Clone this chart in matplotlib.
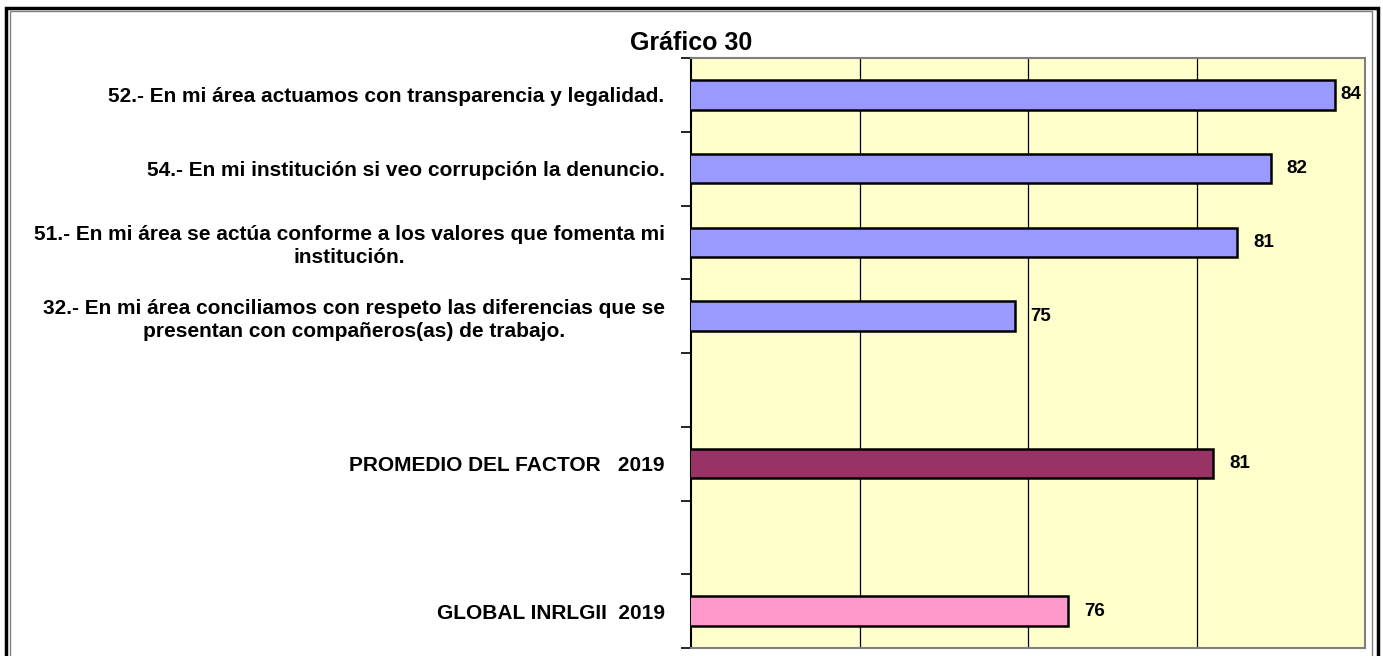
import numpy as np
import matplotlib
matplotlib.use('Agg')
import matplotlib.pyplot as plt
from matplotlib.patches import Rectangle

plt.rcParams['font.family'] = ['Liberation Sans', 'DejaVu Sans']

# data (axis runs 65..85)
item_labels = [
    "52.- En mi área actuamos con transparencia y legalidad.",
    "54.- En mi institución si veo corrupción la denuncio.",
    "51.- En mi área se actúa conforme a los valores que fomenta mi\ninstitución.",
    "32.- En mi área conciliamos con respeto las diferencias que se\npresentan con compañeros(as) de trabajo.",
]
item_values = [84.1, 82.2, 81.2, 74.6]
promedio_label = "PROMEDIO DEL FACTOR   2019"
promedio_value = 80.5
global_label = "GLOBAL INRLGII  2019"
global_value = 76.2

ITEM_COLOR = '#9999FF'
PROM_COLOR = '#993366'
GLOB_COLOR = '#FF99CC'

# 8 category slots, two of them left empty as spacers
labels = item_labels + ["", promedio_label, "", global_label]
values = item_values + [np.nan, promedio_value, np.nan, global_value]
colors = [ITEM_COLOR] * 4 + ['none', PROM_COLOR, 'none', GLOB_COLOR]
ypos = np.arange(len(labels))

W, H = 1383, 656
fig = plt.figure(figsize=(W / 100, H / 100), dpi=100)
ax = fig.add_axes([691 / W, 8 / H, 674 / W, 590 / H])
ax.set_facecolor('#FFFFCC')

xmin, xmax = 65, 85
for y, v, c in zip(ypos, values, colors):
    if np.isnan(v):
        continue
    ax.barh(y, v, height=0.4, color=c, edgecolor='black', linewidth=1.8, zorder=3)
    px_per_unit = 674 / (xmax - xmin)
    off = min(16, (xmax - v) * px_per_unit - 25)
    # Excel rounds half up
    ax.annotate(f"{int(v + 0.5)}", xy=(v, y), xytext=(off, 0), textcoords='offset pixels',
                ha='left', va='center', fontsize=13.5, fontweight='bold', zorder=4)

ax.set_xlim(xmin, xmax)
ax.set_ylim(len(labels) - 0.5, -0.5)

ax.set_xticks([70, 75, 80])
ax.xaxis.grid(True, color='black', lw=0.9, zorder=1)
ax.tick_params(axis='x', length=0, labelbottom=False)

ax.set_yticks(ypos)
ax.set_yticklabels(labels, fontsize=15, fontweight='bold')
for t in ax.get_yticklabels():
    t.set_multialignment('center')
    t.set_linespacing(1.25)
ax.tick_params(axis='y', which='major', length=0, pad=19)
ax.set_yticks(np.arange(-0.5, len(labels), 1), minor=True)
ax.tick_params(axis='y', which='minor', length=7, width=1.2, direction='out')

for side in ['top', 'right', 'bottom']:
    ax.spines[side].set_color('#808080')
    ax.spines[side].set_linewidth(1.5)
ax.spines['left'].set_color('black')
ax.spines['left'].set_linewidth(1.5)

fig.text(0.5, 1 - 43 / H, "Gráfico 30", ha='center', va='center',
         fontsize=18, fontweight='bold')

# double frame round the chart (bottom edge is cut off in the reference)
fig.add_artist(Rectangle((6 / W, -0.1), (1378 - 6) / W, (H - 8) / H + 0.1,
                         transform=fig.transFigure, fill=False, lw=2.5, ec='black'))
fig.add_artist(Rectangle((10 / W, -0.1), (1372 - 10) / W, (H - 11) / H + 0.1,
                         transform=fig.transFigure, fill=False, lw=1, ec='#808080'))

fig.savefig('out.png', dpi=100)
